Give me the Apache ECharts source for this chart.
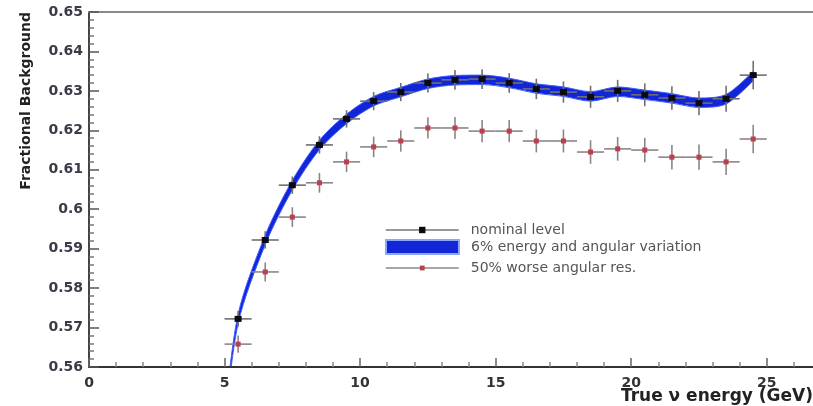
<!DOCTYPE html>
<html>
<head>
<meta charset="utf-8">
<script src="https://cdn.jsdelivr.net/npm/echarts@6/dist/echarts.min.js"></script>
<style>
html,body{margin:0;padding:0;background:#fff;}
#chart{width:813px;height:406px;}
</style>
</head>
<body>
<div id="chart"></div>
<script>
// ---- data ----
var binCenters = [5.5, 6.5, 7.5, 8.5, 9.5, 10.5, 11.5, 12.5, 13.5, 14.5, 15.5, 16.5, 17.5, 18.5, 19.5, 20.5, 21.5, 22.5, 23.5, 24.5];
var binHalfWidth = 0.5;
var nominal = [0.5722, 0.5922, 0.6061, 0.6163, 0.6229, 0.6274, 0.6297, 0.6320, 0.6328, 0.6330, 0.6320, 0.6305, 0.6297, 0.6285, 0.6300, 0.6290, 0.6282, 0.6269, 0.6280, 0.6340];
var nominalErr = [0.0020, 0.0022, 0.0022, 0.0022, 0.0022, 0.0023, 0.0023, 0.0024, 0.0025, 0.0025, 0.0025, 0.0026, 0.0027, 0.0028, 0.0028, 0.0029, 0.0030, 0.0031, 0.0033, 0.0036];
var worseAng = [0.5658, 0.5841, 0.5980, 0.6067, 0.6120, 0.6158, 0.6173, 0.6206, 0.6206, 0.6198, 0.6198, 0.6173, 0.6173, 0.6145, 0.6153, 0.6150, 0.6132, 0.6132, 0.6120, 0.6178];
var worseAngErr = [0.0022, 0.0024, 0.0025, 0.0025, 0.0026, 0.0026, 0.0027, 0.0027, 0.0028, 0.0028, 0.0028, 0.0029, 0.0029, 0.0030, 0.0030, 0.0031, 0.0031, 0.0032, 0.0033, 0.0036];
var bandX    = [5.0, 5.5, 6.5, 7.5, 8.5, 9.5, 10.5, 11.5, 12.5, 13.5, 14.5, 15.5, 16.5, 17.5, 18.5, 19.5, 20.5, 21.5, 22.5, 23.5, 24.5];
var bandLow  = [0.5448, 0.5710, 0.5910, 0.6049, 0.6151, 0.6217, 0.6262, 0.6285, 0.6306, 0.6315, 0.6316, 0.6308, 0.6294, 0.6286, 0.6274, 0.6286, 0.6278, 0.6269, 0.6258, 0.6267, 0.6326];
var bandHigh = [0.5472, 0.5734, 0.5934, 0.6073, 0.6175, 0.6241, 0.6286, 0.6309, 0.6330, 0.6339, 0.6340, 0.6332, 0.6318, 0.6310, 0.6298, 0.6310, 0.6302, 0.6293, 0.6282, 0.6291, 0.6350];
var yTicks = { min: 0.56, max: 0.65, step: 0.01 };
var xTicks = { min: 0, max: 27, step: 5 };
var seriesNames = ['nominal level', '6% energy and angular variation', '50% worse angular res.'];
var xTitle = 'True \u03bd energy (GeV)';
var yTitle = 'Fractional Background';

// ---- build options ----
function pairs(xs, ys) { return xs.map(function (x, i) { return [x, ys[i]]; }); }
function triples(xs, ys, es) { return xs.map(function (x, i) { return [x, ys[i], es[i]]; }); }

function errRender(color) {
  return function (params, api) {
    var x = api.value(0), y = api.value(1), e = api.value(2);
    var l = api.coord([x - binHalfWidth, y]), r = api.coord([x + binHalfWidth, y]);
    var t = api.coord([x, y + e]), b = api.coord([x, y - e]);
    var st = { stroke: color, lineWidth: 1.6 };
    return {
      type: 'group',
      children: [
        { type: 'line', shape: { x1: l[0], y1: l[1], x2: r[0], y2: r[1] }, style: st },
        { type: 'line', shape: { x1: t[0], y1: t[1], x2: b[0], y2: b[1] }, style: st }
      ]
    };
  };
}

var FONT = 'DejaVu Sans';
var BLUE = '#1226d8';
var legendBase = {
  orient: 'horizontal', left: 385, padding: 0, itemWidth: 73, selectedMode: false,
  textStyle: { color: '#555', fontSize: 14, fontFamily: FONT, padding: [0, 0, 0, 7] }
};

var option = {
  animation: false,
  backgroundColor: '#ffffff',
  grid: { left: 89, right: -8, top: 12, bottom: 39, outerBoundsMode: 'none', containLabel: false },
  xAxis: [{
    type: 'value', min: xTicks.min, max: xTicks.max, interval: xTicks.step, z: 10,
    name: xTitle, nameLocation: 'end', nameGap: 0, nameMoveOverlap: false,
    nameTextStyle: { align: 'right', verticalAlign: 'top', padding: [21, 8, 0, 0], color: '#222', fontSize: 17, fontWeight: 'bold', fontFamily: FONT },
    axisLine: { show: true, lineStyle: { color: '#333', width: 2 } },
    axisTick: { show: true, inside: true, length: 9, lineStyle: { color: '#666', width: 1.5 } },
    minorTick: { show: true, splitNumber: 5, length: 5, lineStyle: { color: '#888', width: 1.5 } },
    axisLabel: { margin: 9, color: '#333', fontSize: 14, fontWeight: 'bold', fontFamily: FONT, showMaxLabel: false },
    splitLine: { show: false }
  }, {
    type: 'value', position: 'top', min: xTicks.min, max: xTicks.max, z: 10,
    axisLine: { show: true, lineStyle: { color: '#8a8a8a', width: 2 } },
    axisTick: { show: false }, axisLabel: { show: false }, splitLine: { show: false }
  }],
  yAxis: {
    type: 'value', min: yTicks.min, max: yTicks.max, interval: yTicks.step, z: 10,
    name: yTitle, nameLocation: 'end', nameGap: 0, nameRotate: 90, nameMoveOverlap: false,
    nameTextStyle: { align: 'right', verticalAlign: 'bottom', padding: [0, 0, 56, 0], color: '#222', fontSize: 14, fontWeight: 'bold', fontFamily: FONT },
    axisLine: { show: true, lineStyle: { color: '#444', width: 2 } },
    axisTick: { show: true, inside: true, length: 10, lineStyle: { color: '#555', width: 1.5 } },
    minorTick: { show: true, splitNumber: 5, length: 5, lineStyle: { color: '#777', width: 1.5 } },
    axisLabel: {
      margin: 6, color: '#3a3a48', fontSize: 14, fontWeight: 'bold', fontFamily: FONT,
      formatter: function (v) { return String(Number(v.toFixed(2))); }
    },
    splitLine: { show: false }
  },
  legend: [
    Object.assign({}, legendBase, {
      top: 223, itemHeight: 8,
      data: [{ name: seriesNames[0], lineStyle: { color: '#777', width: 1.5, opacity: 1 }, itemStyle: { color: '#0a0a12' } }]
    }),
    Object.assign({}, legendBase, {
      top: 239, itemHeight: 14,
      data: [{ name: seriesNames[1], icon: 'rect', itemStyle: { color: BLUE, borderColor: '#8aa6ff', borderWidth: 2, opacity: 1 } }]
    }),
    Object.assign({}, legendBase, {
      top: 261, itemHeight: 6,
      data: [{ name: seriesNames[2], lineStyle: { color: '#888', width: 1.5, opacity: 1 }, itemStyle: { color: '#b8404f' } }]
    })
  ],
  series: [
    {
      name: seriesNames[1], type: 'line', data: pairs(bandX, bandHigh), smooth: 0.3,
      symbol: 'none', color: BLUE, itemStyle: { color: BLUE },
      lineStyle: { color: '#3d5cff', width: 1 },
      areaStyle: { color: BLUE, opacity: 1, origin: 'start' }, z: 1, silent: true
    },
    {
      name: 'bandLowerEdge', type: 'line', data: pairs(bandX, bandLow), smooth: 0.3,
      symbol: 'none', lineStyle: { color: '#3d5cff', width: 1 },
      areaStyle: { color: '#ffffff', opacity: 1, origin: 'start', shadowColor: '#ffffff', shadowOffsetX: 1.5, shadowBlur: 0 },
      z: 2, silent: true
    },
    {
      name: 'nominalErr', type: 'custom', renderItem: errRender('#707070'),
      data: triples(binCenters, nominal, nominalErr), z: 3, silent: true
    },
    {
      name: 'worseErr', type: 'custom', renderItem: errRender('#8e8486'),
      data: triples(binCenters, worseAng, worseAngErr), z: 3, silent: true
    },
    {
      name: seriesNames[0], type: 'line', data: pairs(binCenters, nominal),
      symbol: 'rect', symbolSize: [7, 6], showSymbol: true, color: '#0a0a12',
      itemStyle: { color: '#0a0a12' },
      lineStyle: { width: 0, opacity: 0 }, z: 4, silent: true
    },
    {
      name: seriesNames[2], type: 'line', data: pairs(binCenters, worseAng),
      symbol: 'rect', symbolSize: 5, showSymbol: true, color: '#b8404f',
      itemStyle: { color: '#b8404f' },
      lineStyle: { width: 0, opacity: 0 }, z: 4, silent: true
    }
  ]
};

var chart = echarts.init(document.getElementById('chart'), null, { renderer: 'canvas' });
chart.setOption(option);
</script>
</body>
</html>
